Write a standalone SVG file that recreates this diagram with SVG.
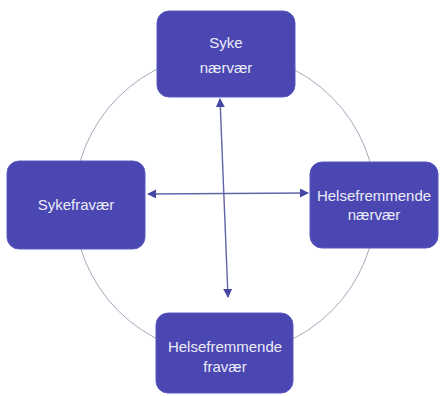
<svg xmlns="http://www.w3.org/2000/svg" width="443" height="396" viewBox="0 0 443 396">
<style>
.box{fill:#4a47b3;stroke:#5a58c0;stroke-width:1}
.t{font-family:"Liberation Sans",Arial,sans-serif;font-size:15px;fill:#ececf7;text-anchor:middle}
.ring{fill:none;stroke:#a8a8bc;stroke-width:1}
.arr{stroke:#6264a8;stroke-width:1.4;fill:none;marker-start:url(#ah);marker-end:url(#ah)}
</style>
<defs>
<marker id="ah" viewBox="0 0 10 10" refX="9" refY="5" markerWidth="9" markerHeight="9" orient="auto-start-reverse" markerUnits="userSpaceOnUse">
<path d="M0,0 L10,5 L0,10 z" fill="#4646a4"/>
</marker>
</defs>
<rect width="443" height="396" fill="#ffffff"/>
<g id="connectors">
<circle class="ring" cx="225" cy="204" r="151"/>
<line class="arr" x1="220" y1="99" x2="228" y2="297"/>
<line class="arr" x1="148" y1="194" x2="308" y2="193"/>
</g>
<g id="syke-naervaer">
<rect class="box" x="157" y="11" width="138" height="86" rx="12"/>
<text class="t" x="226" y="48">Syke</text>
<text class="t" x="226" y="73">nærvær</text>
</g>
<g id="sykefravaer">
<rect class="box" x="7" y="161" width="138" height="88" rx="12"/>
<text class="t" x="76" y="210">Sykefravær</text>
</g>
<g id="helsefremmende-naervaer">
<rect class="box" x="310" y="162" width="128" height="86" rx="12"/>
<text class="t" x="374" y="201">Helsefremmende</text>
<text class="t" x="374" y="220">nærvær</text>
</g>
<g id="helsefremmende-fravaer">
<rect class="box" x="156" y="313" width="137" height="80" rx="12"/>
<text class="t" x="225" y="352">Helsefremmende</text>
<text class="t" x="225" y="372">fravær</text>
</g>
</svg>
